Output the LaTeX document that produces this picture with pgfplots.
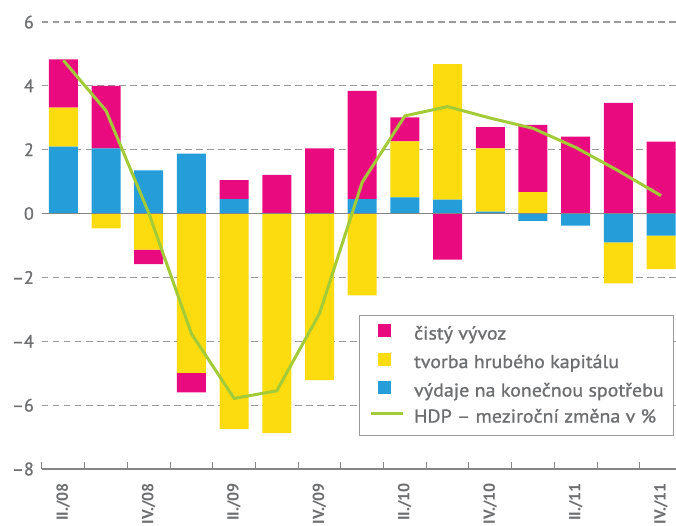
\documentclass[border=0pt]{standalone}
\usepackage{fontspec}
\setmainfont{PT Sans}
\newfontfamily\sbf{PT Sans}[FakeBold=1.0]
\newfontfamily\lgf{PT Sans}[FakeBold=1.0, FakeStretch=1.08]
\usepackage{pgfplots}
\pgfplotsset{compat=1.18}
\definecolor{cmag}{HTML}{EA0A80}
\definecolor{cyel}{HTML}{FCDC0F}
\definecolor{cblu}{HTML}{259DD8}
\definecolor{cgrn}{HTML}{A3CB38}
\definecolor{tgray}{HTML}{6D6E70}
\definecolor{ggray}{HTML}{9A9A9A}
\definecolor{zgray}{HTML}{858585}
\pgfplotsset{
  base/.style={scale only axis, width=634pt, height=447pt,
    xmin=-0.5, xmax=14.35, ymin=-8, ymax=6, at={(0pt,0pt)}, anchor=south west},
}
\begin{document}
\begin{tikzpicture}
\useasboundingbox (-42pt,-56pt) rectangle (634pt,469pt);
\begin{axis}[base, ybar stacked, bar width=29pt,
  axis x line*=bottom, axis y line*=left,
  x axis line style={draw=zgray, line width=1.2pt, -},
  y axis line style={draw=none},
  ytick={-8,-6,...,6}, yticklabels={–8,–6,–4,–2,0,2,4,6},
  ymajorgrids, major grid style={draw=ggray, line width=1.1pt, dash pattern=on 6.5pt off 4.5pt},
  yticklabel style={font=\sbf\fontsize{18}{20}\selectfont, text=tgray, inner sep=0pt, anchor=east},
  yticklabel shift=8pt,
  xtick={0,2,...,14},
  xticklabels={II./08,IV./08,II./09,IV./09,II./10,IV./10,II./11,IV./11},
  xticklabel style={font=\bfseries\fontsize{16}{18}\selectfont, text=tgray, rotate=90, anchor=east, inner sep=0pt},
  xticklabel shift=14pt,
  minor xtick={-0.5,0.5,...,13.5},
  major tick length=0pt, minor tick length=7pt, tick align=inside,
  minor x tick style={draw=zgray, line width=1pt},
  every axis plot/.append style={draw=none},
]
% positive parts
\addplot[fill=cblu] coordinates {(0,2.10)(1,2.04)(2,1.35)(3,1.88)(4,0.45)(5,0)(6,0)(7,0.45)(8,0.51)(9,0.44)(10,0.06)(11,0)(12,0)(13,0)(14,0)};
\addplot[fill=cyel] coordinates {(0,1.22)(1,0)(2,0)(3,0)(4,0)(5,0)(6,0)(7,0)(8,1.75)(9,4.24)(10,1.98)(11,0.67)(12,0)(13,0)(14,0)};
\addplot[fill=cmag] coordinates {(0,1.51)(1,1.96)(2,0)(3,0)(4,0.60)(5,1.21)(6,2.04)(7,3.39)(8,0.75)(9,0)(10,0.67)(11,2.11)(12,2.41)(13,3.47)(14,2.25)};
% negative parts (stacked separately below zero)
\addplot[fill=cblu] coordinates {(0,0)(1,0)(2,0)(3,0)(4,0)(5,0)(6,0)(7,0)(8,0)(9,0)(10,0)(11,-0.23)(12,-0.38)(13,-0.90)(14,-0.69)};
\addplot[fill=cyel] coordinates {(0,0)(1,-0.46)(2,-1.13)(3,-4.99)(4,-6.74)(5,-6.88)(6,-5.22)(7,-2.56)(8,0)(9,0)(10,0)(11,0)(12,0)(13,-1.29)(14,-1.05)};
\addplot[fill=cmag] coordinates {(0,0)(1,0)(2,-0.45)(3,-0.61)(4,0)(5,0)(6,0)(7,0)(8,0)(9,-1.44)(10,0)(11,0)(12,0)(13,0)(14,0)};
\end{axis}
\begin{axis}[base, hide axis,
  legend style={at={(0.997,0.074)}, anchor=south east, draw=ggray, line width=0.8pt,
    font=\lgf\fontsize{18.5}{20}\selectfont, text=tgray, inner xsep=10pt, inner ysep=9pt, row sep=9pt,
    nodes={inner sep=0pt, text height=13pt, text depth=4pt}},
  legend cell align=left,
]
\addplot[zgray, line width=1.5pt, forget plot] coordinates {(-0.5,0) (14.35,0)};
\addlegendimage{legend image code/.code={\fill[cmag, draw=none] (7pt,-2pt) rectangle (20pt,11pt); \path[draw=none, fill=none] (0pt,4.5pt) -- (43pt,4.5pt);}}
\addlegendentry{čistý vývoz}
\addlegendimage{legend image code/.code={\fill[cyel, draw=none] (7pt,-2pt) rectangle (20pt,11pt); \path[draw=none, fill=none] (0pt,4.5pt) -- (43pt,4.5pt);}}
\addlegendentry{tvorba hrubého kapitálu}
\addlegendimage{legend image code/.code={\fill[cblu, draw=none] (7pt,-2pt) rectangle (20pt,11pt); \path[draw=none, fill=none] (0pt,4.5pt) -- (43pt,4.5pt);}}
\addlegendentry{výdaje na konečnou spotřebu}
\addplot[cgrn, line width=3pt, mark=none, legend image code/.code={\draw[cgrn, line width=3pt] (0pt,4.5pt) -- (32pt,4.5pt); \path[draw=none] (0pt,4.5pt) -- (43pt,4.5pt);}]
  coordinates {(0,4.80)(1,3.22)(2,0.02)(3,-3.76)(4,-5.79)(5,-5.55)(6,-3.13)(7,0.98)(8,3.06)(9,3.35)(10,2.99)(11,2.67)(12,2.07)(13,1.34)(14,0.56)};
\addlegendentry{HDP – meziroční změna v \%}
\end{axis}
\end{tikzpicture}
\end{document}
